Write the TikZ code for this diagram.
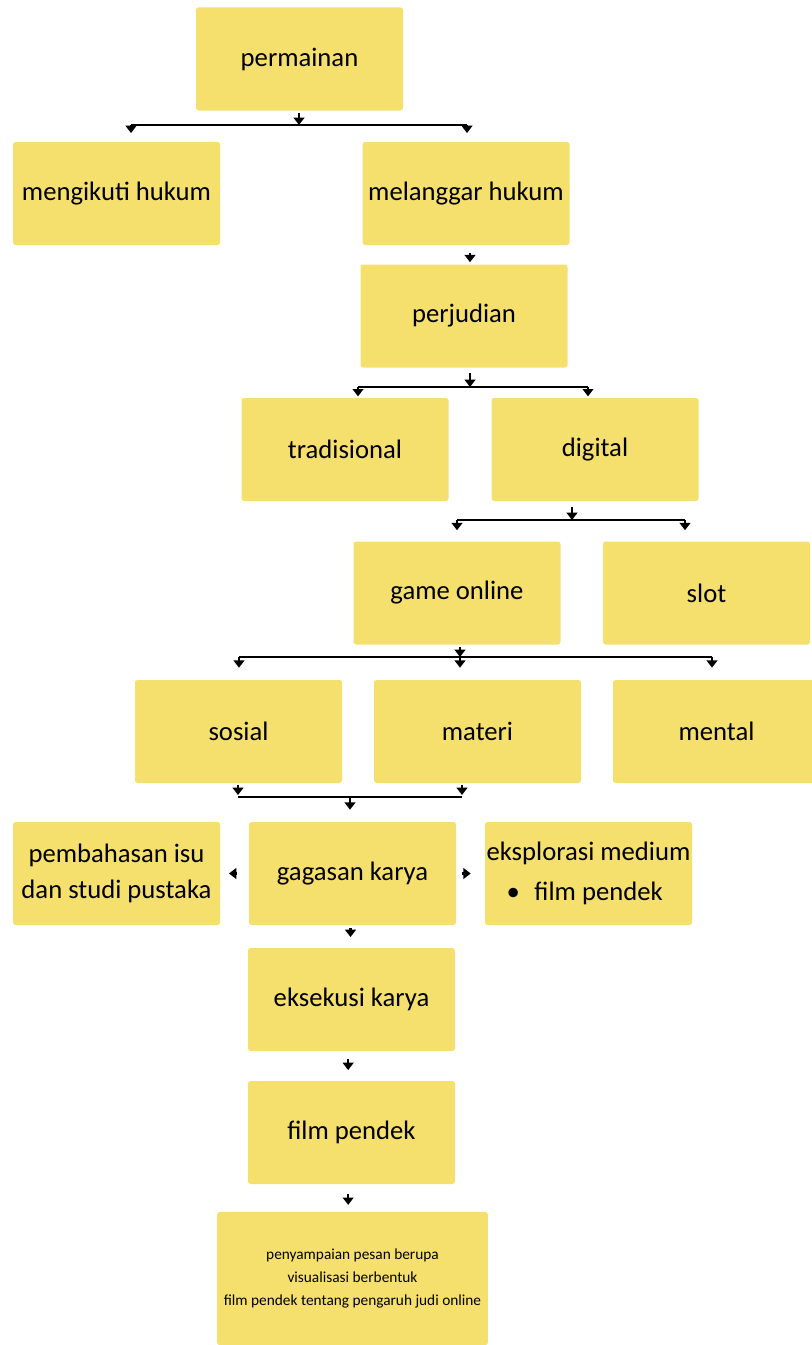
\documentclass[tikz,border=0pt]{standalone}
\usepackage{fontspec}
\setmainfont{Carlito}
\usetikzlibrary{arrows.meta}
\definecolor{kuning}{RGB}{245,224,110}

\begin{document}
\begin{tikzpicture}[
  x=0.75pt, y=-0.75pt,
  box/.style={rectangle, fill=kuning, rounded corners=2pt, minimum width=155.25pt,
              minimum height=77.25pt, font=\fontsize{20}{27}\selectfont, align=center,
              inner sep=1pt},
  arr/.style={-{Triangle[width=8pt,length=5.5pt]}, line width=1.7pt},
  bar/.style={line width=1.7pt}
]
\useasboundingbox (0,0) rectangle (812,1345);

\node[box] (permainan)  at (299.5,59)    {permainan};
\node[box] (mengikuti)  at (116.5,193.5) {mengikuti hukum};
\node[box] (melanggar)  at (466,193.5)   {melanggar hukum};
\node[box] (perjudian)  at (464,316)     {perjudian};
\node[box] (tradisional) at (345,449.5)  {tradisional};
\node[box] (digital)    at (595,449.5)   {digital};
\node[box] (gameonline) at (457,593)     {game online};
\node[box] (slot)       at (706.5,593)   {slot};
\node[box] (sosial)     at (238.5,731.5) {sosial};
\node[box] (materi)     at (477.5,731.5) {materi};
\node[box] (mental)     at (716.5,731.5) {mental};
\node[box] (pembahasan) at (116.5,873.5) {pembahasan isu\\dan studi pustaka};
\node[box] (gagasan)    at (352.5,873.5) {gagasan karya};
\node[box, align=left] (eksplorasi) at (588.5,873.5)
  {eksplorasi medium\\[3pt]\hspace*{15pt}\textbullet\hspace{11pt}film pendek};
\node[box] (eksekusi)   at (351.5,999.5)  {eksekusi karya};
\node[box] (film)       at (351.5,1132.5) {film pendek};
\node[box, minimum width=203pt, minimum height=100pt, font=\fontsize{11.5}{17}\selectfont]
  (pesan) at (352.5,1278.5)
  {penyampaian pesan berupa\\visualisasi berbentuk\\film pendek tentang pengaruh judi online};

% bar positions
\coordinate (b1l) at (131,125); \coordinate (b1m) at (299,125); \coordinate (b1r) at (467,125);
\coordinate (b3l) at (358,387); \coordinate (b3m) at (470,387); \coordinate (b3r) at (588,387);
\coordinate (b4l) at (457,520); \coordinate (b4m) at (572,520); \coordinate (b4r) at (685,520);
\coordinate (b5l) at (239,657); \coordinate (b5m) at (460,657); \coordinate (b5r) at (712,657);
\coordinate (b6l) at (238,797); \coordinate (b6m) at (350,797); \coordinate (b6r) at (462,797);

% permainan
\draw[arr, shorten <=1.5pt] (b1m |- permainan.south) -- (b1m);
\draw[bar] (b1l) -- (b1r);
\draw[arr, shorten >=6.5pt] (b1l) -- (b1l |- mengikuti.north);
\draw[arr, shorten >=6.5pt] (b1r) -- (b1r |- melanggar.north);

% melanggar hukum -> perjudian
\draw[arr, shorten <=6pt, shorten >=1.5pt] (b3m |- melanggar.south) -- (b3m |- perjudian.north);

% perjudian
\draw[arr, shorten <=4pt] (b3m |- perjudian.south) -- (b3m);
\draw[bar] (b3l) -- (b3r);
\draw[arr, shorten >=1pt] (b3l) -- (b3l |- tradisional.north);
\draw[arr, shorten >=1pt] (b3r) -- (b3r |- digital.north);

% digital
\draw[arr, shorten <=4.5pt] (b4m |- digital.south) -- (b4m);
\draw[bar] (b4l) -- (b4r);
\draw[arr, shorten >=8.25pt] (b4l) -- (b4l |- gameonline.north);
\draw[arr, shorten >=8.25pt] (b4r) -- (b4r |- slot.north);

% game online
\draw[arr, shorten <=1.5pt] (b5m |- gameonline.south) -- (b5m);
\draw[bar] (b5l) -- (b5r);
\draw[arr, shorten >=9pt] (b5l) -- (b5l |- sosial.north);
\draw[arr, shorten >=9pt] (b5m) -- (b5m |- materi.north);
\draw[arr, shorten >=9pt] (b5r) -- (b5r |- mental.north);

% sosial, materi -> gagasan karya
\draw[arr, shorten <=1.5pt, shorten >=1.5pt] (b6l |- sosial.south) -- (b6l);
\draw[arr, shorten <=1.5pt, shorten >=1.5pt] (b6r |- materi.south) -- (b6r);
\draw[bar] (b6l) -- (b6r);
\draw[arr, shorten >=9pt] (b6m) -- (b6m |- gagasan.north);

% gagasan karya
\draw[arr, shorten <=9pt, shorten >=6.5pt] (gagasan.west) -- (pembahasan.east);
\draw[arr, shorten <=4pt, shorten >=10.5pt] (gagasan.east) -- (eksplorasi.west);
\draw[arr, shorten <=2pt, shorten >=8pt] ([xshift=-1.5pt]gagasan.south) -- ([xshift=-1.5pt]gagasan.south |- eksekusi.north);

% eksekusi -> film -> pesan
\draw[arr, shorten <=6pt, shorten >=8pt] ([xshift=-2.5pt]eksekusi.south) -- ([xshift=-2.5pt]eksekusi.south |- film.north);
\draw[arr, shorten <=7.5pt, shorten >=5pt] ([xshift=-2.5pt]film.south) -- ([xshift=-2.5pt]film.south |- pesan.north);
\end{tikzpicture}
\end{document}
